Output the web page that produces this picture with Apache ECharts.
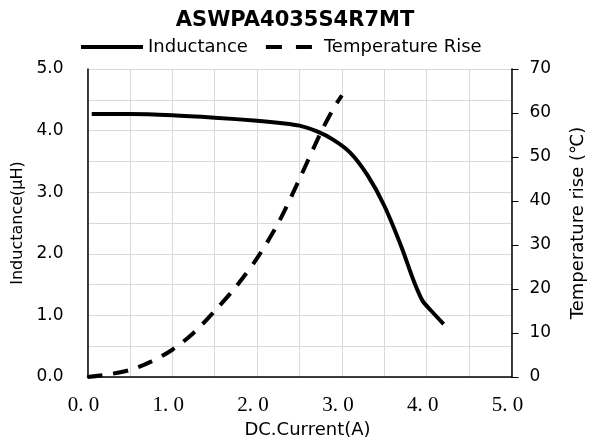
<!DOCTYPE html>
<html>
<head>
<meta charset="utf-8">
<script src="https://cdn.jsdelivr.net/npm/echarts@6/dist/echarts.min.js"></script>
<style>
  html, body { margin: 0; padding: 0; background: #fff; }
  #chart { width: 590px; height: 437px; }
</style>
</head>
<body>
<div id="chart"></div>
<script>
// data
var titleText = 'ASWPA4035S4R7MT'
var seriesNames = ['Inductance', 'Temperature Rise']
var inductance = [
  [0.05, 4.27], [0.5, 4.27], [1.0, 4.25], [1.5, 4.21], [2.0, 4.16],
  [2.3, 4.12], [2.5, 4.08], [2.7, 3.99], [2.9, 3.85], [3.1, 3.64],
  [3.3, 3.28], [3.5, 2.78], [3.7, 2.12], [3.85, 1.55], [3.95, 1.24],
  [4.05, 1.08], [4.2, 0.86]
]
var tempRise = [
  [0.0, 0.0], [0.25, 0.6], [0.5, 1.6], [0.75, 3.5], [1.0, 6.2],
  [1.25, 10.0], [1.5, 15.0], [1.75, 20.5], [2.0, 27.0], [2.25, 35.0],
  [2.5, 45.0], [2.75, 55.5], [2.9, 61.0], [3.0, 64.0]
]
var xTickLabels = ['0. 0', '1. 0', '2. 0', '3. 0', '4. 0', '5. 0']
var yLeftTicks = ['0.0', '1.0', '2.0', '3.0', '4.0', '5.0']

var font = '"DejaVu Sans", sans-serif'
var gridColor = '#d9d9d9'

// legend icons: solid bar and two dashes (tiny corner slivers keep the box 62x4)
var solidIcon = 'path://M0,0H62V4H0Z'
var dashIcon = 'path://M0,0H0.5V0.01H0Z M9,0H25V4H9Z M39,0H55V4H39Z M61.5,3.99H62V4H61.5Z'

var myChart = echarts.init(document.getElementById('chart'))
var option = {
  backgroundColor: '#fff',
  animation: false,
  title: {
    text: titleText,
    left: 'center',
    top: 5,
    textStyle: { fontFamily: font, fontSize: 21, fontWeight: 'bold', color: '#000' }
  },
  legend: {
    top: 33,
    left: 76,
    itemWidth: 62,
    itemHeight: 4,
    itemGap: 9,
    textStyle: { fontFamily: font, fontSize: 18, color: '#000' },
    data: [
      { name: seriesNames[0], icon: solidIcon },
      { name: seriesNames[1], icon: dashIcon }
    ]
  },
  grid: { left: 87.5, right: 78.5, top: 69, bottom: 60, outerBoundsMode: 'none', containLabel: false },
  xAxis: {
    type: 'value',
    min: 0,
    max: 5,
    interval: 1,
    name: 'DC.Current(A)',
    nameLocation: 'middle',
    nameGap: 37,
    nameTextStyle: { fontFamily: font, fontSize: 18, color: '#000', padding: [0, 0, 0, 16] },
    axisLine: { onZero: false, lineStyle: { color: '#000', width: 1.5 } },
    axisTick: { show: false },
    axisLabel: {
      margin: 18,
      fontFamily: '"Liberation Serif", serif',
      fontSize: 21,
      color: '#000',
      padding: [0, 8, 0, 0],
      formatter: function (v) { return xTickLabels[Math.round(v)] }
    },
    splitLine: { show: true, lineStyle: { color: gridColor, width: 1 } },
    minorTick: { show: false, splitNumber: 2 },
    minorSplitLine: { show: true, lineStyle: { color: gridColor, width: 1 } }
  },
  yAxis: [
    {
      type: 'value',
      min: 0,
      max: 5,
      interval: 1,
      name: 'Inductance(μH)',
      nameLocation: 'middle',
      nameGap: 62,
      nameTextStyle: { fontFamily: font, fontSize: 16, color: '#000' },
      axisLine: { show: true, lineStyle: { color: '#000', width: 1.5 } },
      axisTick: { show: false },
      axisLabel: {
        margin: 24,
        fontFamily: font,
        fontSize: 17,
        color: '#000',
        formatter: function (v) { return yLeftTicks[Math.round(v)] }
      },
      splitLine: { show: true, lineStyle: { color: gridColor, width: 1 } },
      minorTick: { show: false, splitNumber: 2 },
      minorSplitLine: { show: true, lineStyle: { color: gridColor, width: 1 } }
    },
    {
      type: 'value',
      min: 0,
      max: 70,
      interval: 10,
      position: 'right',
      name: 'Temperature rise (℃)',
      nameLocation: 'middle',
      nameGap: 58,
      nameTextStyle: { fontFamily: font, fontSize: 18, color: '#000' },
      axisLine: { show: true, lineStyle: { color: '#000', width: 1.5 } },
      axisTick: { show: true, inside: false, length: 7, lineStyle: { color: '#000', width: 1 } },
      axisLabel: { margin: 18, fontFamily: font, fontSize: 17, color: '#000' },
      splitLine: { show: false }
    }
  ],
  series: [
    {
      name: seriesNames[0],
      type: 'line',
      yAxisIndex: 0,
      data: inductance,
      smooth: 0.3,
      showSymbol: false,
      symbol: 'none',
      lineStyle: { color: '#000', width: 4, type: 'solid' },
      itemStyle: { color: '#000' }
    },
    {
      name: seriesNames[1],
      type: 'line',
      yAxisIndex: 1,
      data: tempRise,
      smooth: 0.3,
      showSymbol: false,
      symbol: 'none',
      lineStyle: { color: '#000', width: 4, type: [15, 11] },
      itemStyle: { color: '#000' }
    }
  ]
}
myChart.setOption(option, true)
</script>
</body>
</html>
